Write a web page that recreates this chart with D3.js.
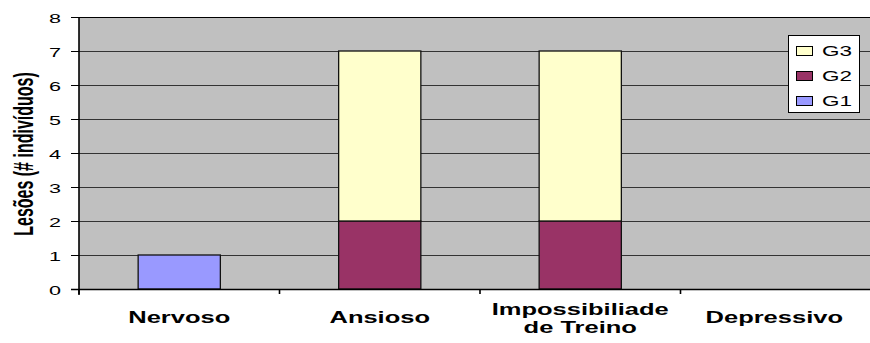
<!DOCTYPE html>
<html>
<head>
<meta charset="utf-8">
<script src="https://cdn.jsdelivr.net/npm/d3@7"></script>
<style>
  html, body { margin: 0; padding: 0; background: #fff; }
  svg { display: block; }
  text { font-family: Arial, "Liberation Sans", sans-serif; fill: #000; }
</style>
</head>
<body>
<svg id="chart" width="870" height="343"></svg>
<script>
// Categories (lines of each x label) and stacked series values
const categories = ["Nervoso", "Ansioso", "Impossibiliade de Treino", "Depressivo"];
const categoryLines = [["Nervoso"], ["Ansioso"], ["Impossibiliade", "de Treino"], ["Depressivo"]];
const seriesNames = ["G1", "G2", "G3"];
const g1 = [1, 0, 0, 0];
const g2 = [0, 2, 2, 0];
const g3 = [0, 5, 5, 0];
const yTicks = [0, 1, 2, 3, 4, 5, 6, 7, 8];
const yTitle = "Lesões (# indivíduos)";

(function () {
  const colors = { G1: "#9999ff", G2: "#993366", G3: "#ffffcc" };
  const sx = 1.5;   // horizontal stretch of label glyphs
  const sxTick = 1.6;
  const sxTitle = 1.75;

  const rows = categories.map((c, i) => ({ cat: c, G1: g1[i], G2: g2[i], G3: g3[i] }));
  const stacked = d3.stack().keys(seriesNames)(rows);

  const svg = d3.select("#chart");
  const W = 870;
  const pLeft = 79, pRight = 881, pTop = 17, pBottom = 289;

  const x = d3.scaleBand().domain(categories).range([pLeft, pRight])
    .paddingInner(0.59).paddingOuter(0.295);
  const y = d3.scaleLinear().domain([0, 8]).range([pBottom, pTop]);

  // plot area
  svg.append("rect").attr("x", pLeft).attr("y", pTop)
    .attr("width", pRight - pLeft).attr("height", pBottom - pTop)
    .attr("fill", "#c0c0c0");

  // gridlines
  svg.append("g").selectAll("line").data(yTicks.filter(t => t > 0)).join("line")
    .attr("x1", pLeft).attr("x2", pRight)
    .attr("y1", d => Math.round(y(d)) + 0.5).attr("y2", d => Math.round(y(d)) + 0.5)
    .attr("stroke", d => d === 8 ? "#000" : "#333").attr("stroke-width", 1);

  // stacked bars
  svg.append("g").selectAll("g").data(stacked).join("g")
    .attr("fill", d => colors[d.key])
    .selectAll("rect").data(d => d.filter(p => p[1] - p[0] > 0)).join("rect")
    .attr("x", p => x(p.data.cat))
    .attr("width", x.bandwidth())
    .attr("y", p => y(p[1]))
    .attr("height", p => y(p[0]) - y(p[1]))
    .attr("stroke", "#111").attr("stroke-width", 1.3);

  // y axis
  const yAxis = svg.append("g").attr("transform", `translate(${pLeft},0)`)
    .call(d3.axisLeft(y).tickValues(yTicks).tickSize(8).tickPadding(0).tickFormat(d3.format("d")));
  yAxis.select(".domain").attr("stroke", "#000").attr("stroke-width", 1.6)
    .attr("d", `M0,${pTop}V${pBottom + 6}`);
  yAxis.selectAll(".tick line").attr("stroke", "#000").attr("stroke-width", 1);
  yAxis.selectAll(".tick text")
    .attr("font-size", 13.5).attr("x", 0).attr("dy", "0.42em")
    .attr("text-anchor", "end").attr("font-family", "Arial, 'Liberation Sans', sans-serif")
    .attr("transform", `translate(-18,0) scale(${sxTick},1)`);

  // x axis: baseline and ticks at category boundaries
  const xAxis = svg.append("g");
  xAxis.append("line").attr("x1", pLeft - 8).attr("x2", pRight)
    .attr("y1", pBottom + 0.5).attr("y2", pBottom + 0.5).attr("stroke", "#000").attr("stroke-width", 1.3);
  const bounds = categories.map(c => x(c) - x.step() * x.paddingInner() / 2).concat([pRight]);
  xAxis.selectAll("line.tk").data(bounds).join("line").attr("class", "tk")
    .attr("x1", d => d).attr("x2", d => d)
    .attr("y1", pBottom).attr("y2", pBottom + 5)
    .attr("stroke", "#000").attr("stroke-width", 1.6);

  // category labels, kept inside the visible chart width
  const lab = svg.append("g").selectAll("text").data(categories).join("text")
    .attr("text-anchor", "middle").attr("font-size", 17).attr("font-weight", "bold");
  lab.each(function (d, i) {
    const lines = categoryLines[i];
    const t = d3.select(this);
    const base = lines.length === 1 ? 323 : 315;
    lines.forEach((ln, j) => {
      t.append("tspan").attr("x", 0).attr("y", base + j * 18).text(ln);
    });
    const half = this.getBBox().width * sx / 2;
    const cx = Math.min(x(d) + x.bandwidth() / 2, W - 27 - half);
    t.attr("transform", `translate(${cx},0) scale(${sx},1)`);
  });

  // y axis title
  svg.append("text")
    .attr("transform", `translate(33,154) scale(${sxTitle},1) rotate(-90)`)
    .attr("text-anchor", "middle").attr("font-size", 16).attr("font-weight", "bold")
    .text(yTitle);

  // legend (top entry is G3)
  const legend = svg.append("g");
  legend.append("rect").attr("x", 788.5).attr("y", 35.5).attr("width", 71).attr("height", 77)
    .attr("fill", "#fff").attr("stroke", "#000").attr("stroke-width", 1);
  const order = seriesNames.slice().reverse();
  const rowsY = d3.scalePoint().domain(order).range([51, 101]);
  const item = legend.selectAll("g").data(order).join("g")
    .attr("transform", d => `translate(0,${rowsY(d)})`);
  item.append("rect").attr("x", 796.5).attr("y", -4.5).attr("width", 16).attr("height", 9)
    .attr("fill", d => colors[d]).attr("stroke", "#000").attr("stroke-width", 1);
  item.append("text").attr("font-size", 15).attr("dy", "0.36em")
    .attr("transform", `translate(822,0) scale(${sx},1)`)
    .text(d => d);
})();
</script>
</body>
</html>
